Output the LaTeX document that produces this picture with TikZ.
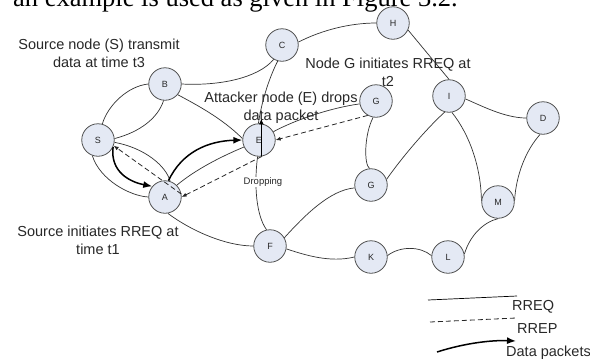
\documentclass[tikz,border=0pt]{standalone}
\usepackage{fontspec}
\setmainfont{Liberation Sans}
\newfontfamily\serifpart{Liberation Serif}
\usetikzlibrary{arrows.meta}
\definecolor{nodefill}{RGB}{228,233,244}
\definecolor{nodeline}{RGB}{80,80,80}
\definecolor{txt}{RGB}{40,40,40}
\tikzset{
  netnode/.style={circle, draw=nodeline, line width=0.8pt, fill=nodefill, minimum size=32.5pt, inner sep=0pt, font=\fontsize{9}{10}\selectfont, text=txt},
  rreq/.style={draw=black!80, line width=0.7pt},
  rrep/.style={draw=black!85, line width=0.8pt, dash pattern=on 5pt off 3pt, -{Latex[length=5pt,width=4pt]}},
  datapkt/.style={draw=black, line width=1.5pt, -{Latex[length=9pt,width=7pt]}},
  lbl/.style={font=\fontsize{14.5}{18}\selectfont, align=center, text=txt, inner sep=0pt},
}
\begin{document}
\begin{tikzpicture}[x=1pt,y=-1pt]
\useasboundingbox (0,0) rectangle (590,360);
\clip (0,0) rectangle (590,360);
\fill[white] (0,0) rectangle (590,360);

% cut-off text line at top
\node[anchor=base west, inner sep=0pt, font=\serifpart\fontsize{26.5}{30}\selectfont] (toptext) at (13,6) {an example is used as given in Figure 3.2.};

% nodes
\node[netnode] (H) at (393,23) {H};
\node[netnode] (C) at (282,45) {C};
\node[netnode] (B) at (165,84) {B};
\node[netnode] (S) at (98,140) {S};
\node[netnode] (E) at (259,140) {E};
\node[netnode] (G1) at (376,101) {G};
\node[netnode] (I) at (449,96) {I};
\node[netnode] (D) at (543,118) {D};
\node[netnode] (A) at (165,197) {A};
\node[netnode] (F) at (270,246) {F};
\node[netnode] (G2) at (371,185) {G};
\node[netnode] (M) at (498,202) {M};
\node[netnode] (K) at (371,257) {K};
\node[netnode] (L) at (448,257) {L};

% RREQ links (thin)
\draw[rreq] (S.75) .. controls (108,105) and (128,86) .. (B.180);
\draw[rreq] (S.5) .. controls (140,132) and (158,118) .. (B.-95);
\draw[rreq] (B.0) .. controls (220,86) and (258,78) .. (C.240);
\draw[rreq] (B.-40) .. controls (195,104) and (222,118) .. (E.175);
\draw[rreq] (C.255) .. controls (268,80) and (261,105) .. (E.92);
\draw[rreq] (C.10) .. controls (322,30) and (350,23) .. (H.180);
\draw[rreq] (H.-25) -- (I.north);
\draw[rreq] (I.-10) .. controls (482,106) and (505,118) .. (D.180);
\draw[rreq] (D.-100) .. controls (526,150) and (516,175) .. (M.5);
\draw[rreq] (I.-80) .. controls (470,135) and (481,168) .. (M.175);
\draw[rreq] (I.-105) .. controls (425,130) and (400,160) .. (G2.20);
\draw[rreq] (G1.-100) .. controls (364,135) and (364,165) .. (G2.95);
\draw[rreq] (G1.190) .. controls (330,108) and (295,120) .. (E.30);
\draw[rreq] (E.205) .. controls (220,157) and (195,170) .. (A.45);
\draw[rreq] (S.-8) .. controls (145,148) and (166,166) .. (A.72);
\draw[rreq] (S.-110) .. controls (100,180) and (130,196) .. (A.180);
\draw[rreq] (A.-80) .. controls (190,230) and (225,246) .. (F.180);
\draw[rreq] (E.-95) .. controls (254,185) and (256,215) .. (F.102);
\draw[rreq] (F.30) .. controls (305,215) and (330,190) .. (G2.190);
\draw[rreq] (F.-10) .. controls (305,255) and (330,263) .. (K.180);
\draw[rreq] (K.5) .. controls (400,246) and (420,246) .. (L.175);
\draw[rreq] (L.10) .. controls (470,235) and (484,222) .. (M.-90);

% RREP (dashed)
\draw[rrep] (G1.-120) -- (E.0);
\draw[rrep] (E.-80) -- (A.0);
\draw[rrep] (A.10) -- (S.-20);

% data packets (thick)
\draw[datapkt] (S.-25) .. controls (110,172) and (130,182) .. (A.140);
\draw[datapkt] (A.78) .. controls (182,152) and (208,141) .. (E.180);
\draw[draw=black, line width=1.5pt, -{Latex[length=6pt,width=5pt]}] (E.-82) -- ([yshift=38pt]E.-82);

% labels
\node[lbl] (lS) at (99,53) {Source node (S) transmit\\data at time t3};
\node[lbl] (lE) at (281,108) {Attacker node (E) drops\\data packet};
\node[lbl] (lG) at (388,72) {Node G initiates RREQ at\\t2};
\node[lbl] (lA) at (98,240) {Source initiates RREQ at\\time t1};
\node[fill=white, inner sep=0.5pt, font=\fontsize{9.5}{10}\selectfont, text=txt] (drop) at (263,182) {Dropping};

% legend
\coordinate (q1) at (428,300); \coordinate (q2) at (517,296);
\coordinate (p1) at (430,322); \coordinate (p2) at (516,318);
\coordinate (d1) at (437,352); \coordinate (d2) at (516,341);
\draw[rreq, draw=black] (q1) -- (q2);
\draw[draw=black!85, line width=0.8pt, dash pattern=on 5pt off 3pt] (p1) -- (p2);
\draw[datapkt] (d1) .. controls (465,343) and (492,340) .. (d2);
\node[lbl, anchor=west] (tq) at (512,307) {RREQ};
\node[lbl, anchor=west] (tp) at (517,329) {RREP};
\node[lbl, anchor=west] (td) at (506,353) {Data packets};
\end{tikzpicture}
\end{document}
